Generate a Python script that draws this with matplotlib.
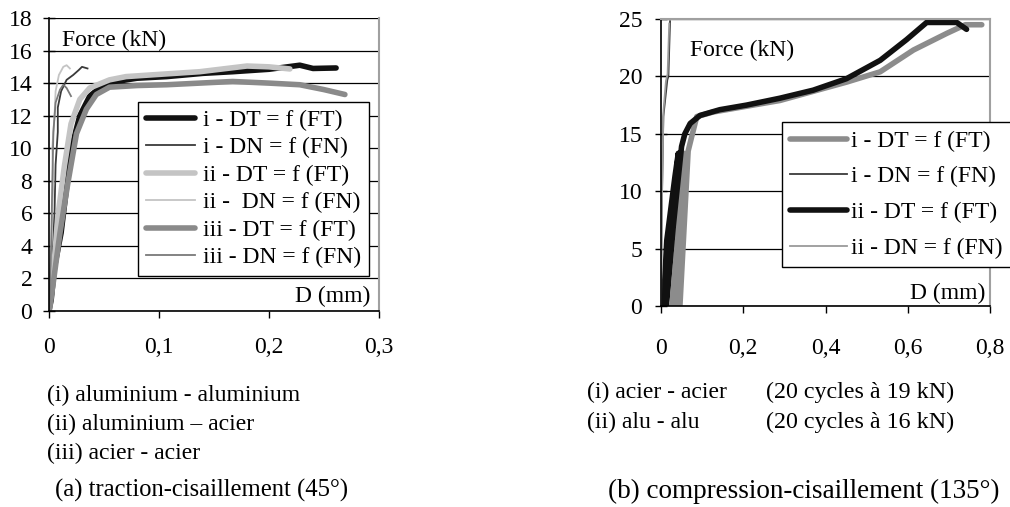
import matplotlib
matplotlib.use("Agg")
import matplotlib.pyplot as plt

plt.rcParams['font.family'] = ['Liberation Serif', 'DejaVu Serif']
plt.rcParams['mathtext.default'] = 'regular'

# ---------------- Data: (a) traction-cisaillement ----------------
a_i_dt_x = [0, 0.002, 0.005, 0.011, 0.016, 0.020, 0.028, 0.037, 0.046, 0.061, 0.080, 0.107, 0.140, 0.167, 0.200, 0.228, 0.240, 0.261]
a_i_dt_y = [0, 0.7, 2.7, 4.8, 7.6, 9.9, 12.0, 13.2, 13.7, 14.1, 14.3, 14.4, 14.6, 14.7, 14.85, 15.1, 14.9, 14.93]
a_i_dn_x = [0, 0.003, 0.005, 0.006, 0.008, 0.008, 0.011, 0.016, 0.022, 0.027, 0.030, 0.035]
a_i_dn_y = [0, 3.0, 6.0, 9.0, 11.0, 12.5, 13.5, 14.2, 14.5, 14.8, 15.0, 14.9]
a_ii_dt_x = [0, 0.003, 0.008, 0.014, 0.020, 0.028, 0.037, 0.055, 0.070, 0.092, 0.137, 0.180, 0.200, 0.219]
a_ii_dt_y = [0, 1.5, 5.8, 8.9, 11.5, 13.0, 13.7, 14.2, 14.4, 14.5, 14.7, 15.05, 15.0, 14.87]
a_ii_dn_x = [0, 0.002, 0.004, 0.003, 0.005, 0.006, 0.009, 0.013, 0.016, 0.019]
a_ii_dn_y = [0, 4.0, 8.0, 10.0, 12.0, 13.5, 14.5, 15.0, 15.1, 14.9]
a_iii_dt_x = [0, 0.004, 0.010, 0.017, 0.025, 0.034, 0.043, 0.055, 0.080, 0.107, 0.167, 0.200, 0.228, 0.250, 0.269]
a_iii_dt_y = [0, 1.8, 4.8, 7.8, 10.9, 12.4, 13.3, 13.75, 13.85, 13.9, 14.1, 14.0, 13.9, 13.6, 13.3]
a_iii_dn_x = [0, 0.002, 0.003, 0.004, 0.006, 0.010, 0.013, 0.016, 0.020]
a_iii_dn_y = [0, 4.0, 8.0, 11.0, 12.8, 13.6, 13.9, 13.7, 13.2]

# ---------------- Data: (b) compression-cisaillement ----------------
b_i_dt_x = [0.026, 0.046, 0.056, 0.036, 0.046, 0.066, 0.075, 0.087, 0.127, 0.208, 0.289, 0.370, 0.451, 0.533, 0.614, 0.695, 0.740, 0.780]
b_i_dt_y = [0, 13.3, 13.3, 0, 0, 13.5, 14.8, 16.5, 16.9, 17.4, 17.9, 18.7, 19.5, 20.4, 22.3, 23.75, 24.5, 24.5]
b_i_dn_x = [0, 0.0016, 0.0057, 0.0154, 0.018, 0.022]
b_i_dn_y = [0, 8.0, 16.5, 19.7, 20.0, 24.8]
b_ii_dt_x = [0.006, 0.014, 0.034, 0.042, 0.012, 0.030, 0.050, 0.058, 0.071, 0.095, 0.143, 0.208, 0.289, 0.370, 0.451, 0.533, 0.597, 0.646, 0.719, 0.743]
b_ii_dt_y = [0, 5.7, 11.3, 13.3, 0, 7.0, 13.9, 15.0, 15.9, 16.6, 17.1, 17.5, 18.1, 18.8, 19.8, 21.4, 23.2, 24.7, 24.7, 24.1]
b_ii_dn_x = [0, 0.002, 0.006, 0.012, 0.016, 0.020]
b_ii_dn_y = [0, 8.5, 17.0, 19.6, 20.2, 24.6]

a_xticks = [0, 0.1, 0.2, 0.3]
a_xlabels = ['0', '0,1', '0,2', '0,3']
a_yticks = [0, 2, 4, 6, 8, 10, 12, 14, 16, 18]
b_xticks = [0, 0.2, 0.4, 0.6, 0.8]
b_xlabels = ['0', '0,2', '0,4', '0,6', '0,8']
b_yticks = [0, 5, 10, 15, 20, 25]

a_labels = ['i - DT = f (FT)', 'i - DN = f (FN)', 'ii - DT = f (FT)', 'ii -  DN = f (FN)',
            'iii - DT = f (FT)', 'iii - DN = f (FN)']
b_labels = ['i - DT = f (FT)', 'i - DN = f (FN)', 'ii - DT = f (FT)', 'ii - DN = f (FN)']

FS = 17
W, H = 1010, 507
fig = plt.figure(figsize=(W / 100, H / 100), dpi=100)

def style_axes(ax, xticks, xlabels, yticks, xlim, ylim, top_visible, xpad, ypad):
    ax.set_xlim(*xlim)
    ax.set_ylim(*ylim)
    ax.set_xticks(xticks)
    ax.set_xticklabels(xlabels)
    ax.set_yticks(yticks)
    ax.tick_params(axis='y', direction='inout', length=9, width=1, labelsize=FS, pad=ypad)
    ax.tick_params(axis='x', direction='out', length=5, width=1, labelsize=FS, pad=xpad)
    ax.yaxis.grid(True, color='black', linewidth=0.9)
    ax.set_axisbelow(True)
    for s in ['left', 'bottom']:
        ax.spines[s].set_color('black')
        ax.spines[s].set_linewidth(1.2)
    ax.spines['right'].set_color('#a0a0a0')
    ax.spines['right'].set_linewidth(1.5)
    ax.spines['top'].set_color('#a0a0a0')
    ax.spines['top'].set_linewidth(1.5)
    ax.spines['top'].set_visible(top_visible)

# ---------- Panel (a) ----------
axa = fig.add_axes([49 / W, 1 - 311 / H, 330 / W, 293 / H])
thick, thin = 4.0, 1.3
la = []
la += axa.plot(a_i_dt_x, a_i_dt_y, color='#111111', lw=thick, solid_capstyle='round')
la += axa.plot(a_i_dn_x, a_i_dn_y, color='#3a3a3a', lw=thin)
la += axa.plot(a_ii_dt_x, a_ii_dt_y, color='#c4c4c4', lw=thick, solid_capstyle='round')
la += axa.plot(a_ii_dn_x, a_ii_dn_y, color='#c4c4c4', lw=thin)
la += axa.plot(a_iii_dt_x, a_iii_dt_y, color='#8a8a8a', lw=thick, solid_capstyle='round')
la += axa.plot(a_iii_dn_x, a_iii_dn_y, color='#7a7a7a', lw=thin)
style_axes(axa, a_xticks, a_xlabels, a_yticks, (0, 0.3), (0, 18), False, 14, 7.5)
axa.text(0.039, 0.925, 'Force (kN)', transform=axa.transAxes, fontsize=FS, ha='left', va='center')
axa.text(0.975, 0.048, 'D (mm)', transform=axa.transAxes, fontsize=FS, ha='right', va='center')
lega = axa.legend(la, a_labels, loc='upper left', bbox_to_anchor=(138 / W, 1 - 102 / H),
                  bbox_transform=fig.transFigure, borderaxespad=0, fontsize=FS,
                  frameon=True, fancybox=False, framealpha=1, edgecolor='black',
                  handlelength=2.1, handletextpad=0.35, labelspacing=0.25, borderpad=0.32)
lega.get_frame().set_linewidth(1.0)

# ---------- Panel (b) ----------
axb = fig.add_axes([661 / W, 1 - 306 / H, 329 / W, 287 / H])
lb = []
lb += axb.plot(b_i_dt_x, b_i_dt_y, color='#8c8c8c', lw=thick, solid_capstyle='round')
lb += axb.plot(b_i_dn_x, b_i_dn_y, color='#3a3a3a', lw=thin)
lb += axb.plot(b_ii_dt_x, b_ii_dt_y, color='#111111', lw=thick, solid_capstyle='round')
lb += axb.plot(b_ii_dn_x, b_ii_dn_y, color='#9a9a9a', lw=thin)
style_axes(axb, b_xticks, b_xlabels, b_yticks, (0, 0.8), (0, 25), True, 18, 9)
axb.text(0.088, 0.892, 'Force (kN)', transform=axb.transAxes, fontsize=FS, ha='left', va='center')
axb.text(0.985, 0.045, 'D (mm)', transform=axb.transAxes, fontsize=FS, ha='right', va='center')
legb = axb.legend(lb, b_labels, loc='upper left', bbox_to_anchor=(782 / W, 1 - 122 / H),
                  bbox_transform=fig.transFigure, borderaxespad=0, fontsize=FS,
                  frameon=True, fancybox=False, framealpha=1, edgecolor='black',
                  handlelength=2.4, handletextpad=0.17, labelspacing=0.6, borderpad=0.35)
legb.get_frame().set_linewidth(1.0)

# ---------- Captions ----------
def ftext(x, y, s, size=FS):
    fig.text(x / W, 1 - y / H, s, fontsize=size, ha='left', va='center')

ftext(47, 395, '(i) aluminium - aluminium')
ftext(47, 424, '(ii) aluminium \u2013 acier')
ftext(47, 453, '(iii) acier - acier')
ftext(55, 490, '(a) traction-cisaillement (45\u00b0)', 17.7)
ftext(587, 392, '(i) acier - acier')
ftext(766, 392, '(20 cycles \u00e0 19 kN)', 17.3)
ftext(587, 422, '(ii) alu - alu')
ftext(766, 422, '(20 cycles \u00e0 16 kN)', 17.3)
ftext(608, 491, '(b) compression-cisaillement (135\u00b0)', 19.5)

fig.savefig('out.png', dpi=100)
